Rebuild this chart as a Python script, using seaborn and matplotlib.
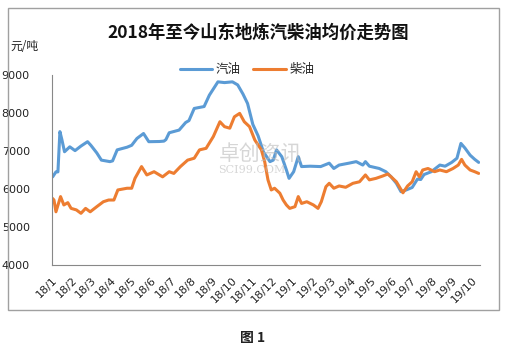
import pandas as pd
import matplotlib
matplotlib.use("Agg")
import matplotlib.pyplot as plt
from matplotlib.patches import Rectangle
import seaborn as sns

# 汽油 (gasoline) average price
gas_dates = ["2018-01-02", "2018-01-07", "2018-01-10", "2018-01-13", "2018-01-16", "2018-01-20",
             "2018-01-28", "2018-02-05", "2018-02-14", "2018-02-24", "2018-03-01", "2018-03-10",
             "2018-03-17", "2018-03-30", "2018-04-03", "2018-04-10", "2018-04-25", "2018-05-02",
             "2018-05-10", "2018-05-20", "2018-05-28", "2018-06-13", "2018-06-20", "2018-06-23",
             "2018-06-28", "2018-07-13", "2018-07-23", "2018-07-28", "2018-08-05", "2018-08-20",
             "2018-08-28", "2018-09-10", "2018-09-20", "2018-10-02", "2018-10-10", "2018-10-18",
             "2018-10-25", "2018-11-02", "2018-11-10", "2018-11-18", "2018-11-28", "2018-12-03",
             "2018-12-08", "2018-12-16", "2018-12-23", "2018-12-27", "2019-01-03", "2019-01-10",
             "2019-01-15", "2019-01-28", "2019-02-13", "2019-02-26", "2019-03-05", "2019-03-13",
             "2019-03-28", "2019-04-08", "2019-04-18", "2019-04-22", "2019-04-28", "2019-05-13",
             "2019-05-23", "2019-05-31", "2019-06-08", "2019-06-15", "2019-06-23", "2019-07-02",
             "2019-07-10", "2019-07-15", "2019-07-20", "2019-07-31", "2019-08-13", "2019-08-21",
             "2019-08-31", "2019-09-08", "2019-09-14", "2019-09-20", "2019-09-28", "2019-10-05",
             "2019-10-11"]
gas_prices = [6320, 6450, 6450, 7510, 7300, 6980,
              7110, 7010, 7130, 7245, 7150, 6950,
              6760, 6720, 6740, 7030, 7100, 7150,
              7330, 7460, 7245, 7250, 7260, 7300,
              7480, 7550, 7750, 7800, 8120, 8170,
              8470, 8820, 8800, 8820, 8740, 8500,
              8250, 7700, 7400, 6980, 6720, 6760,
              7030, 6850, 6500, 6280, 6455, 6850,
              6590, 6600, 6590, 6680, 6540, 6630,
              6680, 6720, 6630, 6720, 6600, 6540,
              6455, 6320, 6150, 5930, 5975, 6040,
              6260, 6250, 6380, 6455, 6630, 6600,
              6700, 6810, 7200, 7080, 6890, 6780,
              6700]

# 柴油 (diesel) average price
diesel_dates = ["2018-01-02", "2018-01-04", "2018-01-07", "2018-01-14", "2018-01-19", "2018-01-25",
                "2018-01-30", "2018-02-07", "2018-02-14", "2018-02-21", "2018-02-28", "2018-03-10",
                "2018-03-20", "2018-03-28", "2018-04-05", "2018-04-11", "2018-04-25", "2018-05-02",
                "2018-05-07", "2018-05-17", "2018-05-25", "2018-06-05", "2018-06-18", "2018-06-28",
                "2018-07-05", "2018-07-15", "2018-07-26", "2018-08-05", "2018-08-13", "2018-08-23",
                "2018-09-03", "2018-09-13", "2018-09-20", "2018-09-28", "2018-10-05", "2018-10-13",
                "2018-10-20", "2018-10-28", "2018-11-05", "2018-11-15", "2018-11-20", "2018-11-25",
                "2018-11-30", "2018-12-05", "2018-12-13", "2018-12-18", "2018-12-23", "2018-12-28",
                "2019-01-05", "2019-01-10", "2019-01-15", "2019-01-23", "2019-02-02", "2019-02-09",
                "2019-02-14", "2019-02-21", "2019-02-26", "2019-03-05", "2019-03-13", "2019-03-23",
                "2019-04-03", "2019-04-13", "2019-04-22", "2019-04-28", "2019-05-08", "2019-05-18",
                "2019-05-26", "2019-05-31", "2019-06-08", "2019-06-13", "2019-06-18", "2019-06-25",
                "2019-07-02", "2019-07-08", "2019-07-13", "2019-07-18", "2019-07-26", "2019-08-05",
                "2019-08-13", "2019-08-23", "2019-09-02", "2019-09-10", "2019-09-15", "2019-09-20",
                "2019-09-28", "2019-10-05", "2019-10-11"]
diesel_prices = [5750, 5710, 5400, 5800, 5580, 5640,
                 5490, 5450, 5360, 5490, 5400, 5535,
                 5665, 5710, 5710, 5975, 6020, 6020,
                 6280, 6590, 6370, 6455, 6320, 6455,
                 6410, 6590, 6760, 6810, 7030, 7070,
                 7380, 7770, 7640, 7600, 7900, 7990,
                 7770, 7640, 7290, 7030, 6720, 6240,
                 5975, 6020, 5890, 5710, 5580, 5490,
                 5535, 5800, 5620, 5665, 5580, 5490,
                 5665, 6060, 6150, 6020, 6080, 6045,
                 6150, 6190, 6370, 6240, 6280, 6340,
                 6395, 6320, 6190, 6045, 5900, 6080,
                 6190, 6455, 6320, 6500, 6540, 6455,
                 6500, 6455, 6540, 6630, 6780, 6630,
                 6500, 6455, 6410]

month_labels = ["18/1", "18/2", "18/3", "18/4", "18/5", "18/6", "18/7", "18/8", "18/9", "18/10",
                "18/11", "18/12", "19/1", "19/2", "19/3", "19/4", "19/5", "19/6", "19/7", "19/8",
                "19/9", "19/10"]

df = pd.concat([
    pd.DataFrame({"date": pd.to_datetime(gas_dates), "price": gas_prices, "type": "汽油"}),
    pd.DataFrame({"date": pd.to_datetime(diesel_dates), "price": diesel_prices, "type": "柴油"}),
])

sns.set_style("white")
plt.rcParams['font.family'] = ['Noto Sans CJK SC', 'DejaVu Sans']

fig = plt.figure(figsize=(5.08, 3.51), dpi=100)
ax = fig.add_axes([52 / 508, 86 / 351, 428 / 508, 190 / 351])

sns.lineplot(data=df, x="date", y="price", hue="type", ax=ax,
             palette={"汽油": "#5B9BD5", "柴油": "#ED7D31"}, linewidth=2.2)

ax.set_ylim(4000, 9000)
ax.set_yticks([4000, 5000, 6000, 7000, 8000, 9000])
ax.set_xlim(pd.Timestamp("2018-01-01"), pd.Timestamp("2019-10-13"))
ticks = pd.date_range("2018-01-01", "2019-10-01", freq="MS")
ax.set_xticks(ticks)
ax.set_xticklabels(month_labels, rotation=45, ha="right", rotation_mode="anchor",
                   fontsize=8, family="DejaVu Sans", color="#222222")
for lbl in ax.get_yticklabels():
    lbl.set_family("DejaVu Sans")
    lbl.set_fontsize(8)
    lbl.set_color("#222222")
ax.tick_params(axis="y", direction="out", length=4, width=0.8, color="#888888", pad=12)
ax.tick_params(axis="x", direction="out", length=4, width=0.8, color="#888888", pad=3)
ax.set_xlabel("")
ax.set_ylabel("")
for s in ["top", "right"]:
    ax.spines[s].set_visible(False)
for s in ["left", "bottom"]:
    ax.spines[s].set_color("#888888")
    ax.spines[s].set_linewidth(0.8)

ax.legend(loc="center", bbox_to_anchor=(247 / 508, 1 - 70 / 351), bbox_transform=fig.transFigure,
          ncol=2, frameon=False, fontsize=9, handlelength=2.6, columnspacing=1.0,
          handletextpad=0.3)

# watermark
fig.text(0.43, 0.56, "卓创资讯", fontsize=15, color="#BBBBBB", alpha=0.6, ha="left", va="center")
fig.text(0.43, 0.515, "SCI99.COM", fontsize=8, color="#BBBBBB", alpha=0.6, ha="left", va="center",
         family="DejaVu Serif")

fig.text(258 / 508, 1 - 33 / 351, "2018年至今山东地炼汽柴油均价走势图", fontsize=12.5,
         fontweight="bold", ha="center", va="center", color="#111111")
fig.text(10 / 508, 1 - 47 / 351, "元/吨", fontsize=8.5, ha="left", va="center", color="#222222")
fig.text(253 / 508, 1 - 338 / 351, "图 1", fontsize=10, fontweight="bold", ha="center",
         va="center", color="#222222")

fig.patches.append(Rectangle((8 / 508, 1 - 310 / 351), 491 / 508, 302 / 351,
                             transform=fig.transFigure, fill=False, edgecolor="#A0A0A0",
                             linewidth=1))

fig.savefig("out.png", dpi=100, facecolor="white")
